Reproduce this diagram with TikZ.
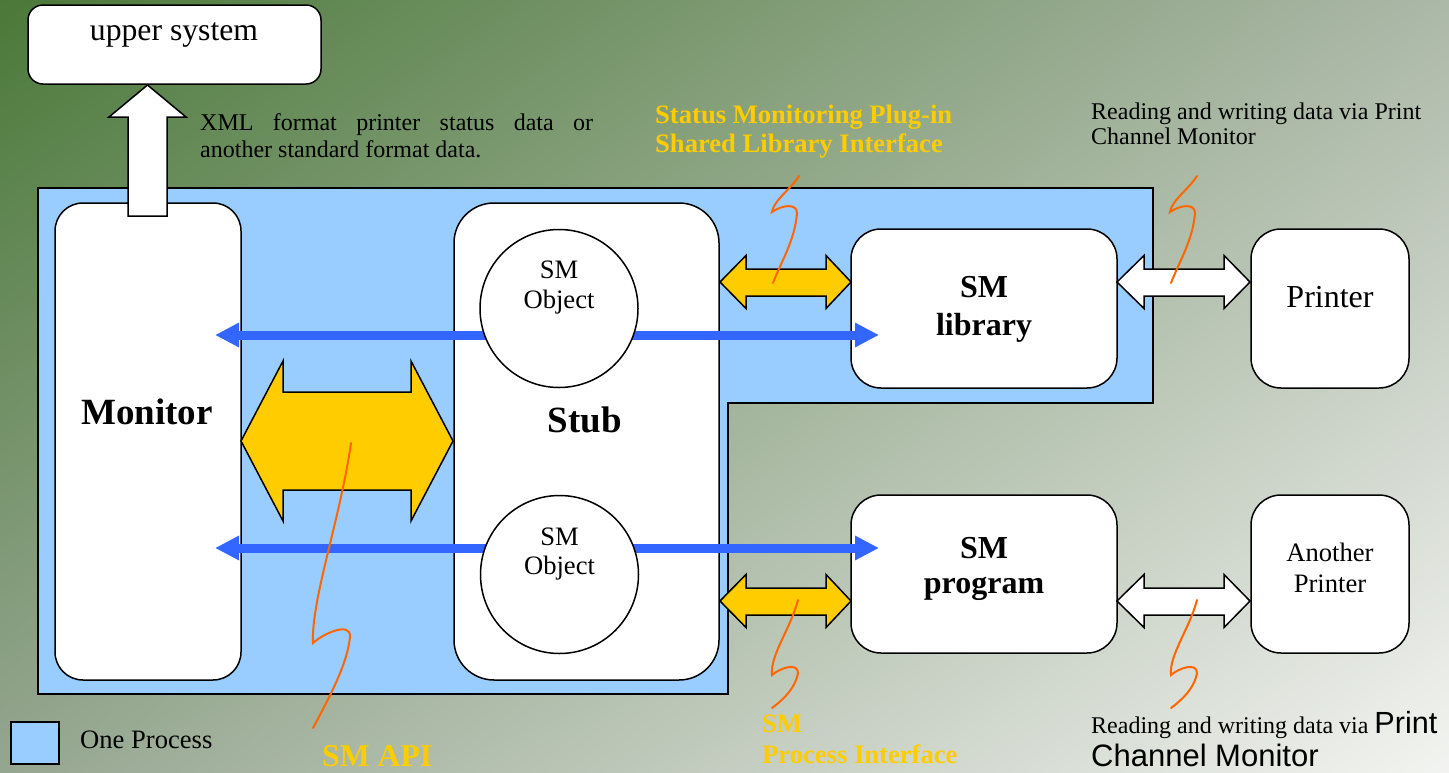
\documentclass[tikz,border=0pt]{standalone}
\usepackage{fontspec}
\setmainfont{Liberation Serif}
\newfontfamily\arialfont{Liberation Sans}
\usetikzlibrary{arrows.meta,shadings}

\definecolor{bgtl}{HTML}{4B7939}
\definecolor{bgtr}{HTML}{ACB8A8}
\definecolor{bgbl}{HTML}{95A690}
\definecolor{bgbr}{HTML}{F3F4F1}
\definecolor{procblue}{HTML}{99CCFF}
\definecolor{gold}{HTML}{FFCC00}
\definecolor{squig}{HTML}{FF6600}
\definecolor{apiblue}{HTML}{3366FF}

\tikzset{
  box/.style={draw, fill=white, line width=1.5pt, inner sep=0pt},
  obj/.style={circle, draw, fill=white, line width=1.5pt, minimum size=158pt, inner sep=0pt},
  yarrow/.style={draw, fill=gold, line width=1.5pt, line join=miter},
  warrow/.style={draw, fill=white, line width=1.5pt, line join=miter},
  apiarrow/.style={apiblue, line width=9pt, {Triangle[length=24pt,width=23pt]}-{Triangle[length=24pt,width=23pt]}},
  zig/.style={squig, line width=2pt, line cap=round},
  txt/.style={inner sep=0pt, anchor=base, font=\fontsize{24}{28}\selectfont},
  lbl/.style={inner sep=0pt, anchor=base, font=\fontsize{26.6}{30}\selectfont},
  bigb/.style={inner sep=0pt, anchor=base, font=\fontsize{32}{36}\selectfont\bfseries},
  hugeb/.style={inner sep=0pt, anchor=base, font=\fontsize{37}{42}\selectfont\bfseries},
  ytxt/.style={inner sep=0pt, anchor=base west, text=gold, font=\fontsize{26.6}{30}\selectfont\bfseries}
}

\begin{document}
\begin{tikzpicture}[x=1pt,y=-1pt]
\useasboundingbox (0,0) rectangle (1449,772);
\shade[upper left=bgtl, upper right=bgtr, lower left=bgbl, lower right=bgbr] (0,0) rectangle (1449,772);

% one process
\draw[fill=procblue, line width=1.5pt] (38,188) -- (1153,188) -- (1153,403) -- (728,403) -- (728,694) -- (38,694) -- cycle;

% boxes
\node[box, rounded corners=15pt, minimum width=293pt, minimum height=79pt] (upper) at (174.5,44.5) {};
\node[box, rounded corners=28pt, minimum width=186pt, minimum height=477pt] (monitor) at (148,441.5) {};
\node[box, rounded corners=40pt, minimum width=265pt, minimum height=477pt] (stub) at (586.5,441.5) {};
\node[box, rounded corners=30pt, minimum width=266pt, minimum height=159pt] (lib) at (984,308.5) {};
\node[box, rounded corners=30pt, minimum width=158pt, minimum height=159pt] (printer) at (1330,308.5) {};
\node[box, rounded corners=30pt, minimum width=266pt, minimum height=158pt] (prog) at (984,574) {};
\node[box, rounded corners=30pt, minimum width=158pt, minimum height=158pt] (another) at (1330,574) {};

% block arrows
\draw[warrow] (147.5,85) -- (186,117) -- (167,117) -- (167,216) -- (128,216) -- (128,117) -- (109,117) -- cycle;
\draw[yarrow] (241,441) -- (283,361) -- (283,392) -- (411,392) -- (411,361) -- (453,441) -- (411,521) -- (411,490) -- (283,490) -- (283,521) -- cycle;
\draw[yarrow] (720,282) -- (746,255.5) -- (746,269) -- (826,269) -- (826,255.5) -- (851,282) -- (826,308.5) -- (826,296) -- (746,296) -- (746,308.5) -- cycle;
\draw[warrow] (1117,282) -- (1144,255.5) -- (1144,269) -- (1224,269) -- (1224,255.5) -- (1250,282) -- (1224,308.5) -- (1224,296) -- (1144,296) -- (1144,308.5) -- cycle;
\draw[yarrow] (720,601) -- (746,574.5) -- (746,588) -- (826,588) -- (826,574.5) -- (851,601) -- (826,627.5) -- (826,615) -- (746,615) -- (746,627.5) -- cycle;
\draw[warrow] (1117,601) -- (1144,574.5) -- (1144,588) -- (1224,588) -- (1224,574.5) -- (1250,601) -- (1224,627.5) -- (1224,615) -- (1144,615) -- (1144,627.5) -- cycle;

% SM API calls
\coordinate (m1) at (215,335);
\coordinate (l1) at (879,335);
\coordinate (m2) at (215,548);
\coordinate (p2) at (879,548);
\draw[apiarrow] (m1) -- (l1);
\draw[apiarrow] (m2) -- (p2);

\node[obj] (obj1) at (559,308.5) {};
\node[obj] (obj2) at (559.5,574.5) {};

% texts
\node[txt, font=\fontsize{31.7}{36}\selectfont] (tupper) at (174,40) {upper system};
\node[txt, anchor=base west] (xml1) at (200,130) {\makebox[393pt][s]{XML format printer status data or}};
\node[txt, anchor=base west] (xml2) at (200,157) {another standard format data.};
\node[ytxt] (plug1) at (655,123) {Status Monitoring Plug-in};
\node[ytxt] (plug2) at (655,152) {Shared Library Interface};
\node[txt, anchor=base west] (pcm1) at (1091,119) {Reading and writing data via Print};
\node[txt, anchor=base west] (pcm2) at (1091,144) {Channel Monitor};
\node[hugeb] (tmonitor) at (147,424) {Monitor};
\node[hugeb] (tstub) at (585,432) {Stub};
\node[lbl] (tobj1a) at (559,278) {SM};
\node[lbl] (tobj1b) at (559,308) {Object};
\node[lbl] (tobj2a) at (559.5,545) {SM};
\node[lbl] (tobj2b) at (559.5,574) {Object};
\node[bigb] (tliba) at (984,297) {SM};
\node[bigb] (tlibb) at (984,335) {library};
\node[txt, font=\fontsize{32}{36}\selectfont] (tprinter) at (1330,307) {Printer};
\node[bigb] (tproga) at (984,558) {SM};
\node[bigb] (tprogb) at (984,593) {program};
\node[lbl] (tanoa) at (1330,561) {Another};
\node[lbl] (tanob) at (1330,592) {Printer};
\node[ytxt, font=\fontsize{31.7}{36}\selectfont\bfseries] (tapi) at (322,766) {SM API};
\node[ytxt] (tpif1) at (762,732) {SM};
\node[ytxt] (tpif2) at (762,763) {Process Interface};
\node[txt, anchor=base west] (pcm3) at (1091,733) {Reading and writing data via {\arialfont\fontsize{30.6}{34}\selectfont Print}};
\node[txt, anchor=base west, font=\fontsize{31}{36}\selectfont\arialfont] (pcm4) at (1091,766) {Channel Monitor};

% squiggles
\draw[zig] (799,176) .. controls (790,190) and (774,200) .. (772,212) .. controls (782,205) and (797,203) .. (797,213) .. controls (795,240) and (781,262) .. (773,283);
\draw[zig] (1197,176) .. controls (1188,190) and (1172,200) .. (1170,212) .. controls (1180,205) and (1195,203) .. (1195,213) .. controls (1193,240) and (1179,262) .. (1171,283);
\draw[zig] (351,443) .. controls (340,520) and (311,600) .. (313,643) .. controls (324,633) and (350,622) .. (350,636) .. controls (348,665) and (325,705) .. (313,728);
\draw[zig] (798,600) .. controls (790,630) and (770,655) .. (772,675) .. controls (780,668) and (798,662) .. (798,673) .. controls (795,690) and (780,702) .. (772,708);
\draw[zig] (1197,600) .. controls (1189,630) and (1169,655) .. (1171,675) .. controls (1179,668) and (1197,662) .. (1197,673) .. controls (1194,690) and (1179,702) .. (1171,708);

% legend
\node[draw, fill=procblue, line width=2pt, minimum width=48pt, minimum height=42pt, inner sep=0pt] (legend) at (35,743) {};
\node[lbl, anchor=base west] (tlegend) at (80,748) {One Process};
\end{tikzpicture}
\end{document}
